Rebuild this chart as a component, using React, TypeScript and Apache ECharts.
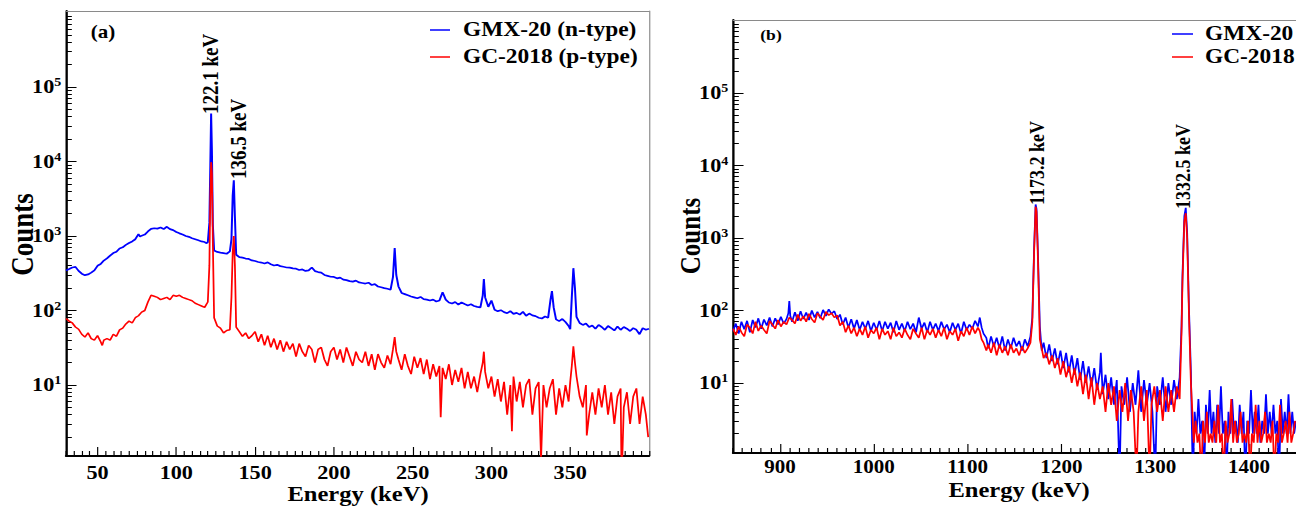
import React, { useEffect, useRef } from "react";
import * as echarts from "echarts";

// ---------- data (energy keV, counts) ----------
const gmxA: [number, number][] = [[30,345],[32,360],[34,378],[36,385],[38,340],[40,312],[42,298],[44,305],[46,322],[48,345],[50,398],[52,420],[54,468],[56,500],[58,545],[60,590],[62,615],[64,680],[66,705],[68,760],[70,805],[72,845],[74,905],[76,1060],[77,980],[78,1010],[80,1045],[82,1150],[84,1245],[86,1270],[88,1255],[90,1300],[92,1240],[94,1330],[96,1235],[98,1200],[100,1130],[102,1085],[104,1045],[106,1000],[108,975],[110,935],[112,905],[114,875],[116,845],[118,830],[119,800],[120,825],[121,1500],[121.6,9000],[122.1,44000],[122.6,14000],[123.2,1400],[124,640],[126,612],[128,598],[130,590],[132,578],[134,620],[135,900],[135.8,3500],[136.5,5600],[137.2,1800],[138,560],[140,520],[142,512],[144,498],[146,492],[148,470],[150,462],[152,448],[154,440],[156,428],[158,442],[160,418],[162,402],[164,410],[166,394],[168,386],[170,378],[172,376],[174,368],[176,364],[178,350],[180,356],[182,340],[184,346],[186,378],[188,338],[190,328],[192,322],[194,300],[196,292],[198,284],[200,282],[202,270],[204,276],[206,260],[208,256],[210,248],[212,244],[214,252],[216,238],[218,234],[220,230],[222,236],[224,220],[226,226],[228,210],[230,205],[232,200],[234,196],[236,190],[237.5,280],[238.6,690],[239.6,300],[241,210],[243,172],[245,166],[247,160],[249,154],[251,150],[253,146],[255,152],[257,142],[259,140],[261,136],[263,140],[265,132],[267,136],[269,176],[271,140],[273,128],[275,124],[277,130],[279,120],[281,128],[283,122],[285,117],[287,121],[289,115],[291,112],[293,110],[294.5,160],[295.2,265],[296,150],[298,112],[300,136],[302,102],[304,98],[306,101],[308,95],[310,92],[312,98],[314,90],[316,93],[318,88],[320,96],[322,85],[324,91],[326,86],[328,84],[330,80],[332,78],[334,83],[336,80],[337.5,140],[338.4,182],[339.5,110],[341,76],[343,72],[345,77],[347,70],[349,62],[350,56],[351,150],[352,370],[353,200],[354,82],[356,68],[358,64],[360,67],[362,60],[364,63],[366,57],[368,64],[370,60],[372,55],[374,62],[376,58],[378,54],[380,61],[382,55],[384,60],[386,57],[388,53],[390,58],[392,55],[394,48],[396,58],[398,55],[400,57]];

const gcA: [number, number][] = [[30,78],[32,72],[34,68],[36,60],[38,56],[40,48],[42,44],[44,50],[46,42],[48,40],[50,46],[52,38],[53,34],[54,40],[56,42],[58,40],[60,48],[62,45],[64,55],[66,58],[68,66],[70,72],[72,68],[74,80],[76,85],[78,95],[80,100],[82,130],[84,160],[86,155],[88,150],[90,140],[92,145],[94,150],[96,140],[98,160],[100,155],[102,160],[104,150],[106,145],[108,140],[110,135],[112,125],[114,120],[116,115],[118,110],[119,120],[120,130],[121,400],[121.6,3500],[122.1,9800],[122.6,7000],[123.2,800],[124,80],[126,62],[128,58],[130,50],[132,54],[134,55],[135,150],[135.8,600],[136.5,1000],[137.2,400],[138,60],[140,52],[142,45],[144,50],[146,42],[148,46],[150,52],[152,38],[154,48],[156,34],[158,46],[160,32],[162,42],[164,30],[166,40],[168,28],[170,38],[172,30],[174,36],[176,24],[178,36],[180,28],[182,24],[184,34],[186,30],[188,20],[190,30],[192,32],[194,22],[196,18],[198,28],[200,32],[202,22],[204,30],[206,20],[208,32],[210,24],[212,18],[214,28],[216,22],[218,20],[220,28],[222,18],[224,26],[226,16],[228,26],[230,20],[232,17],[234,25],[236,19],[237.5,30],[238.6,44],[239.6,28],[241,22],[243,16],[245,26],[247,18],[249,14],[251,24],[253,17],[255,23],[257,14],[259,22],[261,12],[263,19],[265,13],[267,18],[267.8,3.7],[269,17],[271,12],[273,19],[275,10],[277,16],[279,11],[281,17],[283,9],[285,15],[287,9],[289,13],[291,8],[293,14],[294.5,20],[295.2,28],[296,15],[298,9],[300,13],[302,7],[304,12],[306,6],[308,11],[310,4],[312,10],[313,2.4],[314,13],[316,6],[318,11],[320,5],[322,10],[324,12],[326,4],[328,9],[330,11],[331.5,1],[333,10],[335,5],[337,9],[339,12],[341,4],[343,9],[345,5],[347,10],[349,6],[350,11],[351,18],[352,33],[353,20],[354,13],[356,7],[358,5],[360,10],[360.5,2.1],[362,4],[364,8],[366,4],[368,9],[370,5],[372,10],[374,4],[376,8],[378,3],[380,7],[382,9],[382.6,0.5],[384,5],[386,8],[388,3],[390,7],[392,9],[394,3],[396,7],[398,4],[399.5,2]];

const gmxB: [number, number][] = [[850,52],[853,66],[856,48],[859,70],[862,55],[865,72],[868,50],[871,74],[874,58],[877,78],[880,56],[883,75],[886,62],[889,80],[892,60],[895,78],[898,64],[901,82],[904,66],[907,76],[909,92],[910,135],[911,85],[913,70],[916,95],[919,72],[922,98],[925,76],[928,94],[931,74],[934,100],[937,80],[940,96],[943,78],[946,102],[949,84],[952,104],[955,90],[958,98],[961,76],[964,88],[967,64],[970,80],[973,58],[976,76],[979,56],[982,74],[985,54],[988,70],[991,56],[994,72],[997,52],[1000,68],[1003,54],[1006,72],[1009,52],[1012,70],[1015,56],[1018,68],[1021,50],[1024,72],[1027,54],[1030,66],[1033,52],[1036,70],[1039,55],[1042,66],[1045,50],[1048,80],[1051,56],[1054,68],[1057,50],[1060,70],[1063,54],[1066,66],[1069,52],[1072,70],[1075,55],[1078,64],[1081,50],[1084,68],[1087,54],[1090,66],[1093,48],[1096,70],[1099,54],[1102,64],[1105,56],[1108,72],[1111,60],[1113,80],[1115,58],[1117,48],[1120,42],[1122,30],[1125,44],[1128,32],[1131,42],[1134,30],[1137,44],[1140,28],[1143,40],[1146,30],[1149,42],[1152,32],[1155,38],[1158,28],[1161,40],[1164,32],[1167,44],[1169,80],[1171,800],[1172.5,2900],[1173.5,2500],[1175,600],[1177,60],[1179,28],[1181,36],[1184,22],[1187,34],[1190,20],[1193,30],[1196,18],[1199,28],[1202,16],[1205,26],[1208,14],[1211,24],[1214,13],[1217,22],[1220,11],[1223,20],[1226,10],[1229,17],[1232,9],[1235,16],[1238,8],[1241,14],[1242,26],[1244,7],[1247,13],[1250,6],[1253,12],[1256,5],[1259,11],[1262,0.5],[1264,9],[1267,5],[1270,12],[1273,4],[1276,10],[1279,5],[1282,15],[1285,4],[1288,11],[1291,5],[1294,10],[1297,4],[1300,0.5],[1302,9],[1305,5],[1308,12],[1311,4],[1314,10],[1317,5],[1320,11],[1323,6],[1326,12],[1328,60],[1329,300],[1331,2000],[1332.5,2600],[1334,1200],[1336,100],[1338,14],[1340,0.5],[1342,4],[1344,2],[1346,6],[1348,2],[1350,3],[1352,0.5],[1354,5],[1356,2],[1358,8],[1360,2],[1362,4],[1364,1.5],[1366,5],[1368,2],[1370,9],[1372,2],[1374,3],[1376,0.5],[1378,4],[1380,2],[1382,6],[1384,2],[1386,3],[1388,1.5],[1390,5],[1392,2],[1394,4],[1396,0.5],[1398,3],[1400,2],[1402,8],[1404,2],[1406,4],[1408,2],[1410,5],[1412,1.5],[1414,3],[1416,2],[1418,7],[1420,2],[1422,4],[1424,2],[1426,5],[1428,2],[1430,3],[1432,0.5],[1434,6],[1436,2],[1438,4],[1440,2],[1442,7],[1444,2],[1446,4],[1448,2],[1450,3]];

const gcB: [number, number][] = [[850,56],[853,46],[856,60],[859,50],[862,44],[865,64],[868,58],[871,48],[874,70],[877,52],[880,62],[883,54],[886,48],[889,72],[892,64],[895,56],[898,74],[901,60],[904,70],[907,64],[910,80],[913,74],[916,66],[919,88],[922,72],[925,84],[928,70],[931,90],[934,76],[937,68],[940,92],[943,82],[946,74],[949,96],[952,86],[955,92],[958,80],[961,86],[964,62],[967,70],[970,50],[973,62],[976,48],[979,58],[982,44],[985,56],[988,46],[991,60],[994,42],[997,54],[1000,48],[1003,58],[1006,40],[1009,56],[1012,46],[1015,52],[1018,40],[1021,58],[1024,44],[1027,50],[1030,42],[1033,56],[1036,46],[1039,40],[1042,56],[1045,48],[1048,42],[1051,58],[1054,40],[1057,54],[1060,46],[1063,56],[1066,42],[1069,54],[1072,44],[1075,58],[1078,40],[1081,52],[1084,46],[1087,56],[1090,38],[1093,52],[1096,44],[1099,58],[1102,46],[1105,60],[1108,48],[1111,58],[1113,52],[1115,40],[1117,36],[1120,28],[1122,34],[1125,26],[1128,36],[1131,24],[1134,34],[1137,26],[1140,32],[1143,24],[1146,34],[1149,26],[1152,30],[1155,24],[1158,32],[1161,26],[1164,30],[1167,36],[1169,70],[1171,700],[1172.5,2700],[1173.5,2300],[1175,500],[1177,40],[1179,30],[1181,22],[1184,26],[1187,18],[1190,24],[1193,16],[1196,22],[1199,13],[1202,20],[1205,12],[1208,17],[1211,10],[1214,16],[1217,9],[1220,14],[1223,7],[1226,13],[1229,6],[1232,12],[1235,5],[1238,10],[1241,6],[1244,9],[1247,4],[1250,10],[1253,5],[1256,9],[1259,3],[1262,8],[1265,4],[1268,10],[1271,3],[1274,8],[1277,4],[1280,0.5],[1282,4],[1285,9],[1288,3],[1291,8],[1294,0.5],[1296,5],[1299,9],[1302,4],[1305,8],[1308,3],[1311,9],[1314,4],[1317,8],[1320,4],[1323,9],[1326,6],[1328,50],[1329,250],[1331,1700],[1332.5,2200],[1334,1000],[1336,80],[1338,10],[1340,3],[1341,1.5],[1343,3],[1345,1.5],[1347,2],[1349,0.5],[1351,3],[1353,1.5],[1355,4],[1357,1.5],[1359,2],[1361,1.5],[1363,3],[1365,1.5],[1367,5],[1369,1.5],[1371,2],[1373,0.5],[1375,3],[1377,1.5],[1379,2],[1381,6],[1383,1.5],[1385,3],[1387,1.5],[1389,2],[1391,4],[1393,1.5],[1395,2],[1397,1.5],[1399,3],[1401,0.5],[1403,2],[1405,1.5],[1407,5],[1409,1.5],[1411,3],[1413,1.5],[1415,2],[1417,4],[1419,1.5],[1421,2],[1423,1.5],[1425,3],[1427,0.5],[1429,2],[1431,1.5],[1433,5],[1435,1.5],[1437,2],[1439,3],[1441,1.5],[1443,4],[1445,1.5],[1447,2],[1449,3]];

// ---------- ticks ----------
const xTicksA = [50, 100, 150, 200, 250, 300, 350];
const xTicksB = [900, 1000, 1100, 1200, 1300, 1400];
const yDecadeExp = [1, 2, 3, 4, 5];

const seriesNamesA = ["GMX-20 (n-type)", "GC-2018 (p-type)"];
const seriesNamesB = ["GMX-20", "GC-2018"];
const peakLabelsA = ["122.1 keV", "136.5 keV"];
const peakLabelsB = ["1173.2 keV", "1332.5 keV"];

// ---------- layout (reference pixels; chart is horizontally stretched) ----------
const W = 1108;
const S = 1296 / W;
const X = (p: number) => p / S;
const FONT = "Liberation Serif";

function range(a: number, b: number, step: number) {
  const out: number[] = [];
  for (let v = a; v <= b + 1e-9; v += step) out.push(+v.toFixed(6));
  return out;
}
const minorX = (a: number, b: number, step: number, majors: number[]) =>
  range(a, b, step).filter((v) => !majors.includes(v));
const minorY = (() => {
  const out: number[] = [];
  for (let e = 0; e <= 5; e++) for (let m = 2; m <= 9; m++) out.push(Math.log10(m * Math.pow(10, e)));
  return out;
})();
const toLog = (d: [number, number][]) => d.map(([x, c]) => [x, Math.log10(c)]);

function panelAxes(gi: number, xmin: number, xmax: number, xMajor: number[], xMinorStep: number, ymin: number, ymax: number, xFont: number, xMargin: number, rightFrame: boolean) {
  const xAxes: any[] = [
    {
      type: "value", gridIndex: gi, min: xmin, max: xmax, position: "bottom",
      axisLine: { show: true, onZero: false, lineStyle: { color: "#000", width: 2 } },
      axisTick: { show: true, inside: true, length: 9, customValues: xMajor, lineStyle: { color: "#000", width: 1 } },
      axisLabel: { show: true, customValues: xMajor, margin: xMargin, color: "#000", fontFamily: FONT, fontWeight: "bold", fontSize: xFont, formatter: (v: number) => String(v) },
      splitLine: { show: false },
    },
    {
      type: "value", gridIndex: gi, min: xmin, max: xmax, position: "bottom",
      axisLine: { show: false, onZero: false },
      axisTick: { show: true, inside: true, length: 5, customValues: minorX(xmin, xmax, xMinorStep, xMajor), lineStyle: { color: "#000", width: 1 } },
      axisLabel: { show: false },
      splitLine: { show: false },
    },
    {
      type: "value", gridIndex: gi, min: xmin, max: xmax, position: "top",
      axisLine: { show: true, onZero: false, lineStyle: { color: "#8a8a8a", width: 1 } },
      axisTick: { show: false }, axisLabel: { show: false }, splitLine: { show: false },
    },
  ];
  const yAxes: any[] = [
    {
      type: "value", gridIndex: gi, min: ymin, max: ymax, position: "left",
      axisLine: { show: true, onZero: false, lineStyle: { color: "#000", width: 2 } },
      axisTick: { show: true, inside: true, length: 9, customValues: yDecadeExp, lineStyle: { color: "#000", width: 1 } },
      axisLabel: {
        show: true, customValues: yDecadeExp, margin: 4, color: "#000",
        fontFamily: FONT, fontWeight: "bold", fontSize: 19,
        formatter: (v: number) => `{b|10}{s|${Math.round(v)}}`,
        rich: {
          b: { fontFamily: FONT, fontWeight: "bold", fontSize: 19, lineHeight: 22, color: "#000" },
          s: { fontFamily: FONT, fontWeight: "bold", fontSize: 12, lineHeight: 12, verticalAlign: "top", color: "#000" },
        },
      },
      splitLine: { show: false },
    },
    {
      type: "value", gridIndex: gi, min: ymin, max: ymax, position: "left",
      axisLine: { show: false, onZero: false },
      axisTick: { show: true, inside: true, length: 5, customValues: minorY.filter((v) => v > ymin && v < ymax), lineStyle: { color: "#000", width: 1 } },
      axisLabel: { show: false }, splitLine: { show: false },
    },
  ];
  if (rightFrame) {
    yAxes.push({
      type: "value", gridIndex: gi, min: ymin, max: ymax, position: "right",
      axisLine: { show: true, onZero: false, lineStyle: { color: "#8a8a8a", width: 1 } },
      axisTick: { show: false }, axisLabel: { show: false }, splitLine: { show: false },
    });
  }
  return { xAxes, yAxes };
}

function txt(x: number, y: number, text: string, size: number, opts: any = {}) {
  return {
    type: "text", x: X(x), y, rotation: opts.rotation || 0, silent: true,
    style: {
      text, fill: "#000", fontFamily: FONT, fontWeight: "bold", fontSize: size,
      align: opts.align || "center", verticalAlign: opts.verticalAlign || "middle",
    },
  };
}
function legLine(x1: number, x2: number, y: number, color: string) {
  return { type: "line", silent: true, shape: { x1: X(x1), y1: y, x2: X(x2), y2: y }, style: { stroke: color, lineWidth: 1.5 } };
}

export default function App() {
  const ref = useRef<HTMLDivElement>(null);
  useEffect(() => {
    if (!ref.current) return;
    const chart = echarts.init(ref.current, undefined, { renderer: "svg" });
    const A = panelAxes(0, 30, 400, xTicksA, 5, 0.047, 6.02, 19, 7, true);
    const B = panelAxes(1, 850, 1450, xTicksB, 10, 0.034, 6.007, 18, 5, false);
    const xAxis = [...A.xAxes, ...B.xAxes];
    const yAxis = [...A.yAxes, ...B.yAxes];
    const bx = A.xAxes.length;
    const by = A.yAxes.length;
    const line = (name: string, data: any, xi: number, yi: number, color: string, z: number, w: number) => ({
      type: "line", name, data, xAxisIndex: xi, yAxisIndex: yi, showSymbol: false, symbol: "none",
      lineStyle: { color, width: w }, itemStyle: { color }, z, clip: true, silent: true, animation: false,
    });
    chart.setOption({
      animation: false,
      grid: [
        { left: X(66), top: 11, width: X(649) - X(66), height: 445, outerBoundsMode: "none", containLabel: false },
        { left: X(733), top: 20, width: W - X(733), height: 433, outerBoundsMode: "none", containLabel: false },
      ],
      xAxis,
      yAxis,
      series: [
        line(seriesNamesA[0], toLog(gmxA), 0, 0, "#0000ff", 3, 1.7),
        line(seriesNamesA[1], toLog(gcA), 0, 0, "#ff0000", 4, 1.5),
        line(seriesNamesB[0], toLog(gmxB), bx, by, "#0000ff", 3, 1.5),
        line(seriesNamesB[1], toLog(gcB), bx, by, "#ff0000", 4, 1.5),
      ],
      graphic: [
        txt(22, 234.5, "Counts", 27, { rotation: Math.PI / 2 }),
        txt(690, 236, "Counts", 25, { rotation: Math.PI / 2 }),
        txt(358, 494, "Energy (keV)", 21),
        txt(1019, 490, "Energy (keV)", 21),
        txt(103, 32, "(a)", 18),
        txt(771, 35, "(b)", 15),
        legLine(430, 450, 30, "#0000ff"),
        legLine(430, 450, 57, "#ff0000"),
        txt(463, 30, seriesNamesA[0], 20, { align: "left" }),
        txt(463, 57, seriesNamesA[1], 20, { align: "left" }),
        legLine(1172, 1193, 34, "#0000ff"),
        legLine(1172, 1193, 57, "#ff0000"),
        txt(1205, 34, seriesNamesB[0], 20, { align: "left" }),
        txt(1205, 57, seriesNamesB[1], 20, { align: "left" }),
        txt(210, 114, peakLabelsA[0], 19, { rotation: Math.PI / 2, align: "left" }),
        txt(238, 179, peakLabelsA[1], 19, { rotation: Math.PI / 2, align: "left" }),
        txt(1037, 205, peakLabelsB[0], 18, { rotation: Math.PI / 2, align: "left" }),
        txt(1183, 209, peakLabelsB[1], 18, { rotation: Math.PI / 2, align: "left" }),
      ],
    });
    return () => chart.dispose();
  }, []);
  return (
    <div
      ref={ref}
      style={{
        position: "absolute", left: 0, top: 0, width: W, height: 507,
        transform: `scaleX(${S})`, transformOrigin: "0 0", background: "#fff",
      }}
    />
  );
}
